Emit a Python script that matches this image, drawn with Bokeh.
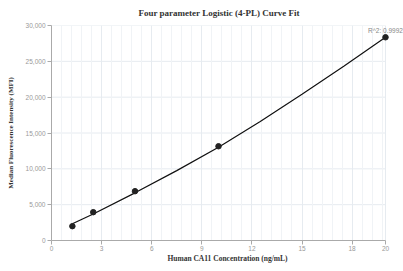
from bokeh.plotting import figure
from bokeh.models import Range1d, FixedTicker, NumeralTickFormatter, ColumnDataSource, Label, Title
from bokeh.core.properties import value
from bokeh.embed import file_html
from bokeh.resources import INLINE

# measured standards
conc = [1.25, 2.5, 5, 10, 20]
mfi = [2000, 3950, 6880, 13150, 28360]

# fitted curve
fit_x = [1.25, 2.5, 5, 7.5, 10, 12.5, 15, 17.5, 20]
fit_y = [2330, 3700, 6650, 9750, 13000, 16600, 20400, 24300, 28360]

x_ticks = [0, 3, 6, 9, 12, 15, 18, 20]
x_minor = [round(0.6 * i, 1) for i in range(1, 34)]
y_ticks = [0, 5000, 10000, 15000, 20000, 25000, 30000]
r2_label = "R^2: 0.9992"

# plot area spans 334 px for 0..20; extend the frame to the window edge so the
# R^2 label is not clipped, while axis and grid stop at 20
x_lo, x_hi = x_ticks[0], x_ticks[-1]
x_end = x_hi * (403 - 51) / 334.0

p = figure(width=403, height=271, output_backend="svg", toolbar_location=None,
           x_range=Range1d(x_lo, x_end), y_range=Range1d(0, 30000),
           min_border_left=51, min_border_right=0, min_border_top=25, min_border_bottom=31)

p.title.text = "Four parameter Logistic (4-PL) Curve Fit"
p.title.text_font = "Liberation Serif"
p.title.text_font_size = "9px"
p.title.text_font_style = "bold"
p.title.align = "left"
p.title.offset = 87
p.title.text_color = "#333333"

# small blank spacer between the title and the plot area
p.add_layout(Title(text=" ", text_font_size="1px", standoff=0), "above")

p.outline_line_color = None
p.background_fill_color = "white"

p.xaxis.ticker = FixedTicker(ticks=x_ticks, minor_ticks=x_minor)
p.xaxis.bounds = (x_lo, x_hi)
p.yaxis.ticker = FixedTicker(ticks=y_ticks)
p.yaxis.formatter = NumeralTickFormatter(format="0,0")

for ax in (p.xaxis, p.yaxis):
    ax.axis_line_color = "#aaaaaa"
    ax.major_tick_line_color = "#aaaaaa"
    ax.major_tick_out = 4
    ax.major_tick_in = 0
    ax.minor_tick_line_color = None
    ax.major_label_text_font = "Liberation Sans"
    ax.major_label_text_font_size = "6.5px"
    ax.major_label_text_color = "#999999"
    ax.major_label_standoff = 2
    ax.axis_label_text_font = "Liberation Serif"
    ax.axis_label_text_font_style = "bold"
    ax.axis_label_text_color = "#333333"

p.xaxis.major_label_standoff = 1
p.xaxis.axis_label = "Human CA11 Concentration (ng/mL)"
p.xaxis.axis_label_text_font_size = "7.5px"
p.xaxis.axis_label_standoff = 0
p.yaxis.axis_label = "Median Fluorescence Intensity (MFI)"
p.yaxis.axis_label_text_font_size = "7px"
p.yaxis.axis_label_standoff = 8

p.xgrid.grid_line_color = "#e6ebf0"
p.xgrid.minor_grid_line_color = "#f0f3f6"
p.ygrid.grid_line_color = None
p.segment(x0=[x_lo] * len(y_ticks), x1=[x_hi] * len(y_ticks), y0=y_ticks, y1=y_ticks,
          line_color="#e6ebf0", line_width=1, level="underlay")

src = ColumnDataSource(dict(x=conc, y=mfi))
p.line(fit_x, fit_y, line_color="#111111", line_width=1.2)
p.scatter("x", "y", source=src, size=5.5, fill_color="#222222", line_color="#222222")

p.add_layout(Label(x=conc[-1], y=mfi[-1], text=r2_label, text_align="center", text_baseline="bottom",
                   y_offset=3, text_font="Liberation Sans", text_font_size="6.5px",
                   text_color="#888888"))

open("out.html", "w").write(file_html(p, INLINE))
